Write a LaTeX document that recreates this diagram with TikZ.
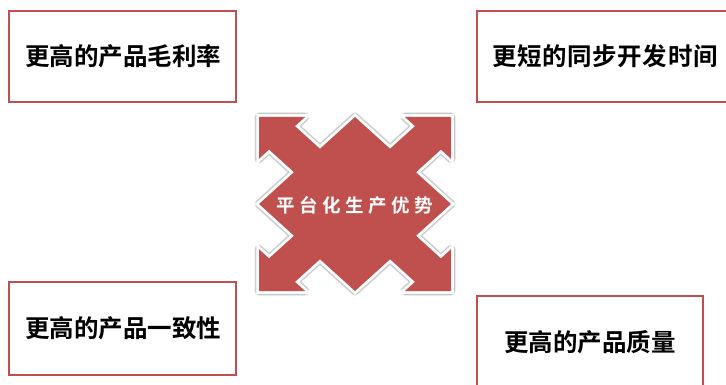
\documentclass[tikz,border=0pt]{standalone}
\usepackage{fontspec}
\newfontfamily\cjk{Noto Sans CJK SC}[BoldFont={Noto Sans CJK SC Bold}]
\definecolor{accred}{RGB}{192,80,77}
\newcommand{\gp}{\hspace{4.5pt}}
\newcommand{\gq}{\hspace{0.6pt}}
\begin{document}
\begin{tikzpicture}[x=1pt,y=-1pt,
  goalbox/.style={draw=accred,line width=2.8pt,fill=white},
  goaltext/.style={font=\cjk\bfseries\fontsize{24.5}{27}\selectfont,text=black,inner sep=0pt},
  centertext/.style={font=\cjk\bfseries\fontsize{18.5}{20}\selectfont,text=white,inner sep=0pt}]
\useasboundingbox (0,0) rectangle (726,385);
% boxes
\draw[goalbox] (9,11) rectangle (236,102);
\draw[goalbox] (477,11) rectangle (734,102);
\draw[goalbox] (9,282) rectangle (236,375);
\draw[goalbox] (477,296) rectangle (703,390);
\node[goaltext] (tl) at (123,56) {更高的产品毛利率};
\node[goaltext] (tr) at (605,56) {更\gq 短\gq 的\gq 同\gq 步\gq 开\gq 发\gq 时\gq 间};
\node[goaltext] (bl) at (123,328) {更高的产品一致性};
\node[goaltext] (br) at (590,342) {更高的产品质量};
% center quad arrow
\begin{scope}[shift={(355,204)},xscale=96,yscale=87]
\def\quadarrow{(0,-1) -- (0.365,-0.635) -- (0.625,-0.895) -- (0.52,-1) -- (1,-1) -- (1,-0.52) -- (0.895,-0.625) -- (0.635,-0.365) -- (1,0)
 -- (0.635,0.365) -- (0.895,0.625) -- (1,0.52) -- (1,1) -- (0.52,1) -- (0.625,0.895) -- (0.365,0.635) -- (0,1)
 -- (-0.365,0.635) -- (-0.625,0.895) -- (-0.52,1) -- (-1,1) -- (-1,0.52) -- (-0.895,0.625) -- (-0.635,0.365) -- (-1,0)
 -- (-0.635,-0.365) -- (-0.895,-0.625) -- (-1,-0.52) -- (-1,-1) -- (-0.52,-1) -- (-0.625,-0.895) -- (-0.365,-0.635) -- cycle}
\draw[black,opacity=0.12,line width=9pt,line join=round] \quadarrow;
\draw[black,opacity=0.12,line width=7.5pt,line join=round] \quadarrow;
\draw[white,line width=5.5pt,line join=miter] \quadarrow;
\fill[accred] \quadarrow;
\end{scope}
\node[centertext] (c) at (355,205) {平\gp 台\gp 化\gp 生\gp 产\gp 优\gp 势};
\end{tikzpicture}
\end{document}
